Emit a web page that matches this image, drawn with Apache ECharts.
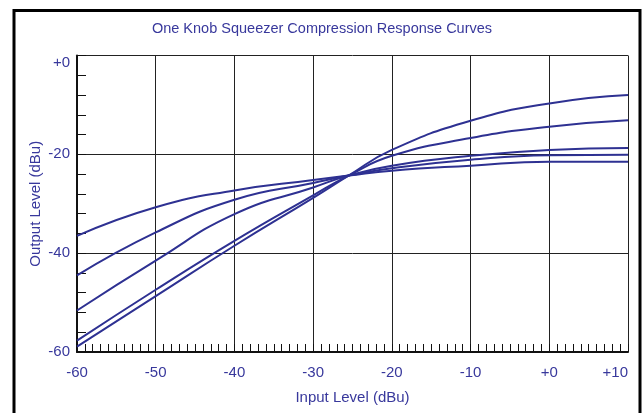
<!DOCTYPE html>
<html>
<head>
<meta charset="utf-8">
<script src="https://cdn.jsdelivr.net/npm/echarts@6/dist/echarts.min.js"></script>
<style>
  html, body { margin: 0; padding: 0; background: #fff; }
  #chart { width: 644px; height: 413px; }
</style>
</head>
<body>
<div id="chart"></div>
<script>
// input levels (dBu) read at the grid lines, plus the common crossing point
const inputLevels = [-60, -50, -40, -30, -25.5, -20, -10, 0, 10];

// output levels (dBu) for each curve, flattest first
const curveA = [-36.5, -30.7, -27.3, -25.2, -24.3, -23.3, -22.3, -21.5, -21.5];
const curveB = [-44.5, -35.8, -29.2, -25.8, -24.3, -22.8, -21.1, -20.2, -20.1];
const curveC = [-51.6, -41.5, -32.1, -26.7, -24.3, -22.3, -20.3, -19.1, -18.7];
const curveD = [-57.7, -47.4, -37.5, -28.3, -24.3, -20.3, -16.7, -14.4, -13.1];
const curveE = [-58.9, -48.7, -38.5, -28.8, -24.3, -19.1, -13.2, -9.7, -8.0];

const curves = [curveA, curveB, curveC, curveD, curveE];

const TEXT_BLUE = '#38389c';
const LINE_BLUE = '#2e3192';
const FONT = '"Liberation Sans", Arial, sans-serif';

const signed = (v) => (v >= 0 ? '+' + v : String(v));

const chart = echarts.init(document.getElementById('chart'), null, { renderer: 'canvas' });

chart.setOption({
  backgroundColor: '#fff',
  animation: false,
  title: {
    text: 'One Knob Squeezer Compression Response Curves',
    left: 'center',
    top: 16,
    textStyle: { color: TEXT_BLUE, fontSize: 14.5, fontWeight: 'normal', fontFamily: FONT },
  },
  graphic: [
    {
      type: 'rect',
      shape: { x: 14, y: 10.5, width: 626, height: 420 },
      style: { fill: 'none', stroke: '#000', lineWidth: 3 },
      silent: true,
    },
  ],
  grid: { left: 77, right: 16, top: 55.5, bottom: 61 },
  xAxis: {
    type: 'value',
    min: -60,
    max: 10,
    interval: 10,
    name: 'Input Level (dBu)',
    nameLocation: 'middle',
    nameGap: 38,
    nameTextStyle: { color: TEXT_BLUE, fontSize: 15, fontFamily: FONT },
    axisLine: { show: true, onZero: false, lineStyle: { color: '#111', width: 2 } },
    axisTick: { show: true, inside: true, length: 8, lineStyle: { color: '#111' } },
    minorTick: { show: true, splitNumber: 10, length: 8, lineStyle: { color: '#111', width: 1 } },
    axisLabel: {
      color: TEXT_BLUE, fontSize: 15, fontFamily: FONT, margin: 13,
      formatter: signed, alignMaxLabel: 'right',
    },
    splitLine: { show: true, lineStyle: { color: '#222', width: 1 } },
  },
  yAxis: {
    type: 'value',
    min: -60,
    max: 0,
    interval: 20,
    name: 'Output Level (dBu)',
    nameLocation: 'middle',
    nameGap: 34,
    nameMoveOverlap: false,
    nameTextStyle: { color: TEXT_BLUE, fontSize: 15, fontFamily: FONT },
    axisLine: { show: true, onZero: false, lineStyle: { color: '#111', width: 2 } },
    axisTick: { show: true, inside: true, length: 9, lineStyle: { color: '#111' } },
    minorTick: { show: true, splitNumber: 5, length: 9, lineStyle: { color: '#111', width: 1 } },
    axisLabel: {
      color: TEXT_BLUE, fontSize: 15, fontFamily: FONT, margin: 7,
      formatter: signed, verticalAlignMaxLabel: 'top',
    },
    splitLine: { show: true, lineStyle: { color: '#222', width: 1 } },
  },
  series: curves.map((values, i) => ({
    name: 'curve' + (i + 1),
    type: 'line',
    smooth: 0.5,
    showSymbol: false,
    clip: true,
    lineStyle: { color: LINE_BLUE, width: 2 },
    data: inputLevels.map((x, j) => [x, values[j]]),
  })),
});
</script>
</body>
</html>
